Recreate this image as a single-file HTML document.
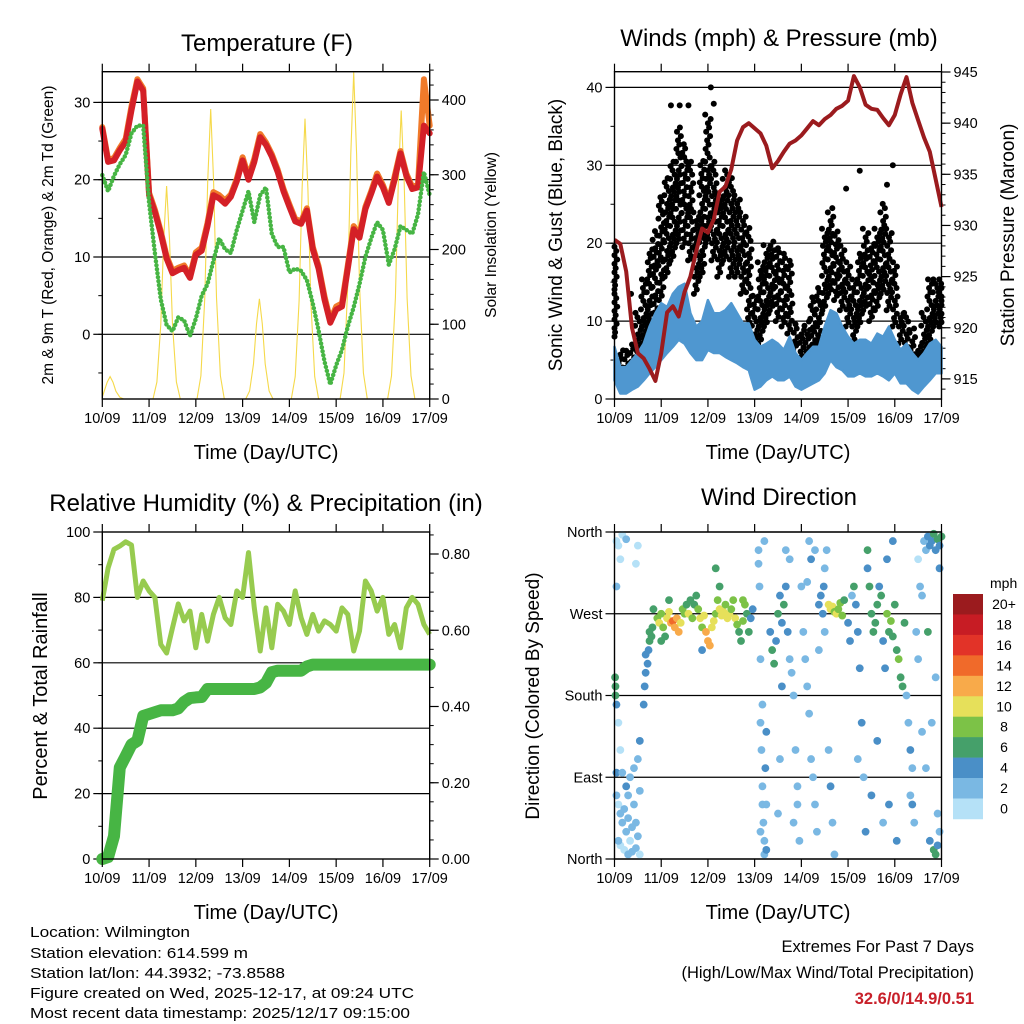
<!DOCTYPE html>
<html><head><meta charset="utf-8">
<style>
html,body{margin:0;padding:0;background:#fff;}
svg{display:block;font-family:"Liberation Sans",Arial,sans-serif;}
</style></head>
<body>
<svg id="chart" width="1024" height="1024" viewBox="0 0 1024 1024" xmlns="http://www.w3.org/2000/svg"></svg>
<script>
// ---------- DATA (3-hourly samples, index*3 = hours since 10/09 00 UTC) ----------
const dayLabels = ["10/09","11/09","12/09","13/09","14/09","15/09","16/09","17/09"];
const tempRed = [26.6,22.3,22.5,23.8,24.9,29,32.7,31.5,18,15.8,13,9.8,7.9,8.3,8.6,7.3,10.3,10.8,14,18,17.6,16.9,17.8,19.8,22.5,20,22.3,25.5,24.5,23,21,18.5,16.5,14.6,14.3,16,11,8.5,4.5,1.5,3.2,3.6,8.5,13.6,12.5,16.2,18.2,20.4,19,17,20,23.4,20.5,18.8,19,27,26];
const tempOrange = [26.8,22.6,22.8,24.1,25.3,29.5,33,31.8,18.3,16.1,13.3,10.1,8.2,8.6,8.9,7.6,10.6,11.2,14.4,18.4,18,17.3,18.1,20.1,22.9,20.4,22.7,25.9,24.8,23.3,21.3,18.8,16.8,14.9,14.6,16.3,11.3,8.8,4.9,1.8,3.6,4,8.9,14,12.8,16.5,18.5,20.8,19.3,17.3,20.4,23.7,20.8,19.1,19.3,33,27];
const dewGreen = [20.6,18.5,20.5,22,23.2,26,27,27,17,10.5,4.5,1.2,0.4,2.2,1.8,-0.2,2,5,6.5,9.5,12.4,11,10.5,13.5,16,18.5,14.5,18,19,13,11.3,11.3,8,8.5,8.2,7,4,0.5,-3.5,-6.5,-4,-2,1,3.5,6.5,10,12.4,14.5,13.5,9,11,14,13.5,13,15.5,21,18];
const solarHour = [4,33,55.6,80.6,104,129,153.4];
const solarPeak = [30,285,388,134,375,437,386];
const pressure = [928.6,928.2,925.5,920,917.5,917,916,914.8,917.5,921.5,922.1,921.1,923.5,925,927.5,929.7,929.3,930.6,933.3,933.8,935.5,938.3,939.6,940,939.5,939,937.8,935.6,936.3,937.2,938,938.3,938.8,939.5,940.2,939.8,940.4,940.8,941.4,941.7,942.2,944.6,943.5,941.8,941.4,941.3,940.5,939.8,940.8,942.8,944.5,942,940.3,938.6,937.2,934.5,931.8];
const windLo = [2.4,0.7,0.7,1.2,1.6,2.4,3.3,4.1,5,5.9,6.7,7.6,7.1,5.9,5,5,6.3,5.9,5.9,5.4,5,4.6,4.1,3.7,1.2,1.6,2.4,2.9,2.4,2.4,2.9,1.6,1.2,1.6,2,2.4,3.3,5,4.1,3.7,2.9,2.9,3.3,2.9,2.9,3.3,2.9,2.4,3.3,2,2,1.2,0.7,1.6,2.4,3.3,3.3];
const windHi = [6.7,4.1,4.1,5,5.9,7.1,9.3,11,12.3,11.8,13.5,14.4,14.8,11,9.3,10,12.7,11,11,11.4,12.3,11,9.7,9.7,7.6,6.7,7.1,7.6,7.1,6.3,8,5.9,5,5.9,6.7,6.7,9.3,11.4,11,9.3,8,7.1,7.6,7.6,7.1,8.4,8,9.3,7.6,6.3,7.1,5.9,5,5.9,7.1,7.6,6.7];
const gustLo = [8,2.4,2.9,3.7,5,7.1,9.3,10,12.7,15.7,17.8,20,19.5,17.8,13.5,15.7,20,17.8,15.7,17.8,15.7,15.7,13.5,9.3,5,7.1,9.3,11.4,10,9.3,8.4,6.3,5,5,5.9,7.1,11.4,13.5,12.7,11.4,9.3,7.1,9.3,11.4,10,11.4,13.5,11.4,9.3,7.1,5,4.1,2.9,5,7.1,9.3,9.3];
const gustHi = [20,6.3,6.7,7.1,11.4,15.7,19.5,22,26.4,28.5,30.6,35,32.8,30.6,24.2,30.6,37,30.6,26.4,29.4,28.5,26.4,24.2,22,13.5,17.8,20,20.4,19.5,18.7,17.8,10,9.3,10,13.5,14.4,22,24.7,22,20,17.8,15.7,18.7,22,20,22,25.6,22,17.8,11.4,11.4,9.3,7.1,11.4,15.7,15.7,15.7];
const gustOutHour = [29,33.5,38,49.5,51,8.5,126,119,143,140];
const gustOutVal = [37.7,37.7,37.7,40,37.9,13.5,29.3,27,30,27.5];
const rh = [79,89,94.7,95.7,97,96,80,85,82,80,65.6,63,70.7,78,72.8,75.8,64.6,74.8,66.6,74.8,80,73.8,71.7,82,80,93.7,76.8,63.6,76.8,64.6,77.9,75.8,71.7,82,73.8,68.7,74.8,69.7,72.8,71.7,69.7,76.8,74.8,63.6,69.7,85,82,75.8,80,68.7,71.7,64.6,76.8,80,77.9,71.7,68.7];
const precip = [0,0.005,0.06,0.24,0.27,0.30,0.31,0.375,0.38,0.385,0.39,0.39,0.39,0.395,0.412,0.422,0.424,0.425,0.446,0.446,0.446,0.446,0.446,0.446,0.446,0.446,0.446,0.45,0.462,0.49,0.494,0.494,0.494,0.494,0.494,0.505,0.51,0.51,0.51,0.51,0.51,0.51,0.51,0.51,0.51,0.51,0.51,0.51,0.51,0.51,0.51,0.51,0.51,0.51,0.51,0.51,0.51];
// wind direction observations: hour, direction (deg), speed (mph)
const dirObs = [
[1,350,1],[2,345,1],[4,357,1],[6,352,2],[12,345,1],[3,330,1],[1,300,2],[11,325,1],[0.5,180,6],[0.5,190,6],[1,170,4],[0.3,200,6],[2,150,1],[3,120,1],[1,95,4],[1,70,2],[2,60,1],[3,50,2],[4,40,2],[5,55,3],[6,30,2],[7,45,2],[8,20,1],[9,35,3],[10,60,3],[11,40,2],[12,25,2],[13,75,3],[3,15,1],[5,10,1],[7,5,2],[9,8,2],[11,12,3],[13,5,1],[6,80,4],[8,90,3],[12,110,3],[13,130,4],[4,95,2],[10,100,2],[2,20,2],[7,70,3],
[15,170,4],[15.5,190,4],[16,205,4],[17,215,4],[17.5,230,5],[18,240,6],[19,245,6],[19.5,255,6],[16,225,5],[18,250,6],
[20,275,6],[22,265,8],[23,260,10],[24,270,9],[25,255,8],[26,245,7],[27,265,10],[28,272,11],[29,260,12],[30,262,14],[31,255,13],[32,265,12],[33,250,13],[34,260,11],[35,275,8],[36,270,9],[37,280,7],[38,270,10],[39,285,7],[40,265,9],[41,280,6],[42,290,7],[43,275,8],[44,265,10],[45,255,8],[46,268,11],[47,250,12],[48,240,13],[49,235,12],[50,255,11],[51,262,10],[52,270,9],[53,285,8],[54,275,10],[55,268,11],[56,272,10],[57,280,9],[58,265,10],[59,270,11],[60,275,9],[61,285,8],[62,265,10],[63,258,8],[64,250,7],[65,240,6],[66,262,9],[67,280,8],[68,270,7],[69,250,6],[70,265,5],[71,275,4],[52,320,6],[54,300,7],[45,230,5],[24,240,7],[28,285,7],[66,285,8],
[74,340,3],[74.5,300,2],[75,220,2],[75,150,2],[75.5,120,3],[76,80,3],[76,60,2],[76.5,40,3],[77,20,2],[77,5,3],[77.5,100,4],[78,140,4],[76,170,3],[77,350,3],[74,325,2],[78,60,3],[75,30,2],[78,10,4],
[80,250,4],[81,230,6],[82,215,6],[83,240,4],[84,270,6],[85,290,4],[86,260,5],[87,280,6],[88,300,4],[89,250,4],[90,220,3],[91,205,2],[92,180,2],[93,120,2],[94,80,3],[94,60,2],[95,20,2],[92,40,2],[90,330,3],[88,340,2],[86,190,4],[85,110,2],[84,50,3],
[96,300,3],[97,250,2],[98,220,2],[99,190,3],[100,160,2],[101,110,3],[102,90,2],[103,60,3],[104,30,2],[105,280,4],[106,290,4],[107,270,4],[107.5,300,4],[108,250,3],[108,320,3],[109,340,2],[110,120,3],[111,80,4],[112,40,2],[113,5,2],[105,230,3],[103,340,2],[100,350,2],[99,305,3],[101,330,4],
[110,280,10],[111,275,10],[112,278,10],[113,272,9],[114,270,10],[115,275,9],[116,282,8],[117,268,8],[118,285,6],
[120,260,4],[121,240,4],[122,290,3],[123,300,6],[124,280,5],[125,250,4],[126,210,4],[127,150,4],[128,90,3],[129,30,4],[130,320,5],[131,300,6],[132,270,6],[133,250,6],[134,260,7],[135,280,6],[136,300,5],[137,290,6],[138,240,5],[139,210,4],[140,270,8],[141,250,7],[142,262,8],[143,245,6],[144,280,7],[145,230,6],[146,220,8],[147,200,7],[148,190,6],[149,260,6],[140,330,4],[143,350,4],[130,340,6],[135,130,4],[141,60,4],[145,20,4],[125,110,3],[132,70,4],[138,40,3],
[150,180,3],[151,150,3],[152,120,4],[153,100,3],[152,70,3],[153,60,4],[154,40,3],[155,250,3],[156,220,2],[157,300,2],[156,330,1],[158,290,2],[159,350,2],[160,340,3],[161,355,4],[162,345,5],[163,350,4],[164,358,6],[165,340,4],[166,352,6],[167,345,4],[162,20,4],[164,10,6],[165,5,6],[166,15,4],[167,30,3],[160,100,2],[158,140,2],[163,150,2],[166,50,3],[161,250,6],[165,200,3],[168,355,6],[167,320,5]
];
const speedLabels = ["0","2","4","6","8","10","12","14","16","18","20+"];
const speedColors = ["#b5e1f7","#7ab8e3","#4a8fc7","#45a06a","#7cc247","#e6e05a","#f8aa4a","#f06a2a","#e23328","#c71c24","#9b1b1e"];

// ---------- helpers ----------
const NS = "http://www.w3.org/2000/svg";
const svg = document.getElementById("chart");
function mk(tag, attrs, parent){
  const e = document.createElementNS(NS, tag);
  for (const k in attrs) e.setAttribute(k, attrs[k]);
  (parent||svg).appendChild(e);
  return e;
}
function txt(str, attrs, parent){ const t = mk("text", attrs, parent); t.textContent = str; return t; }
function pathD(pts){ return pts.map((p,i)=>(i?"L":"M")+p[0].toFixed(1)+","+p[1].toFixed(1)).join(""); }

const P = {
  t:{x0:102.3,x1:429.7,y0:71.7,y1:399},
  w:{x0:614.5,x1:941.5,y0:71.7,y1:399},
  r:{x0:102.3,x1:429.7,y0:532,y1:859},
  d:{x0:614.5,x1:941.5,y0:532,y1:859}
};
const HOURS = 168;
function xsFor(p){ return h => p.x0 + h*(p.x1-p.x0)/HOURS; }
const xT = xsFor(P.t), xW = xsFor(P.w), xR = xsFor(P.r), xD = xsFor(P.d);
const yTemp = v => 334.3 - v*7.73;
const ySolar = v => 399 - v*0.7475;
const yWind = v => 399 - v*7.79;
const yPres = v => 72 + (945-v)*10.23;
const yRH = v => 859 - v*3.27;
const yPrec = v => 859 - v*381.25;
const yDir = v => 859 - v*327/360;

function frame(p, name){
  const g = mk("g",{});
  
  
  mk("rect",{x:p.x0,y:p.y0,width:p.x1-p.x0,height:p.y1-p.y0,fill:"none",stroke:"#000","stroke-width":1.4},g);
  return g;
}
function xAxis(p, xs, name){
  const g = mk("g",{});
  
  
  dayLabels.forEach((lab,i)=>{
    const x = xs(i*24);
    mk("line",{x1:x,x2:x,y1:p.y1,y2:p.y1+8,stroke:"#000","stroke-width":1.2},g);
    mk("line",{x1:x,x2:x,y1:p.y0,y2:p.y0-8,stroke:"#000","stroke-width":1.2},g);
    const t = txt(lab,{x:x,y:p.y1+24,"font-size":14.5,"text-anchor":"middle"},g);
    
    
  });
  const tt = txt("Time (Day/UTC)",{x:(p.x0+p.x1)/2,y:p.y1+60,"font-size":20,"text-anchor":"middle"},g);
  
  
}
function yTicks(p, side, vals, labels, ys, minorVals, name, grid){
  const g = mk("g",{});
  
  
  const xe = side==="L" ? p.x0 : p.x1, dir = side==="L" ? -1 : 1;
  (minorVals||[]).forEach(v=>{ const y=ys(v); mk("line",{x1:xe,x2:xe+dir*4,y1:y,y2:y,stroke:"#000","stroke-width":1},g); });
  vals.forEach((v,i)=>{
    const y = ys(v);
    mk("line",{x1:xe,x2:xe+dir*9,y1:y,y2:y,stroke:"#000","stroke-width":1.2},g);
    if (grid) mk("line",{x1:p.x0,x2:p.x1,y1:y,y2:y,stroke:"#000","stroke-width":1.2},g);
    const t = txt(labels[i],{x:xe+dir*12,y:y+5,"font-size":14.5,"text-anchor":side==="L"?"end":"start"},g);
    
    
  });
}
function rotTitle(str, x, y, size, name){
  const t = txt(str,{x:x,y:y,"font-size":size,"text-anchor":"middle",transform:`rotate(-90 ${x} ${y})`});
  
  
}
function title(str, x, y, name){
  const t = txt(str,{x:x,y:y,"font-size":24,"text-anchor":"middle"});
  
  
}
function range(a,b,s){ const r=[]; for(let v=a; v<=b+1e-9; v+=s) r.push(+v.toFixed(4)); return r; }

// ---------- PANEL 1: Temperature ----------
title("Temperature (F)", 267, 51, "temperature-title");
yTicks(P.t,"L",[0,10,20,30],["0","10","20","30"],yTemp,range(-5,30,5),"temp-left-axis",true);
yTicks(P.t,"R",[0,100,200,300,400],["0","100","200","300","400"],ySolar,range(0,440,20),"solar-right-axis",false);
{
  const g = mk("g",{});
  
  
  const offs=[-7,-5,-3,-1.5,0,1.5,3,5,7], frac=[0,0.08,0.35,0.75,1,0.75,0.35,0.08,0];
  solarHour.forEach((h,i)=>{
    const pts = offs.map((o,k)=>[xT(Math.max(0,h+o)), ySolar(solarPeak[i]*frac[k])]);
    const pth = mk("path",{d:pathD(pts),fill:"none",stroke:"#f5d94a","stroke-width":1.1},g);
    
    
  });
}
const orangeLine = mk("path",{d:pathD(tempOrange.map((v,i)=>[xT(i*3),yTemp(v)])),fill:"none",stroke:"#f07a2a","stroke-width":6,"stroke-linejoin":"round","stroke-linecap":"round"});


const redLine = mk("path",{d:pathD(tempRed.map((v,i)=>[xT(i*3),yTemp(v)])),fill:"none",stroke:"#d42027","stroke-width":6,"stroke-linejoin":"round","stroke-linecap":"round"});


const dewLine = mk("path",{d:pathD(dewGreen.map((v,i)=>[xT(i*3),yTemp(v)])),fill:"none",stroke:"#47b544","stroke-width":4.5,"stroke-dasharray":"0 4","stroke-linecap":"round"});


frame(P.t,"temperature");
xAxis(P.t,xT,"temperature");
rotTitle("2m & 9m T (Red, Orange) & 2m Td (Green)", 53, 235, 15.5, "temp-left-axis-title");
rotTitle("Solar Insolation (Yellow)", 496, 235, 15.5, "solar-right-axis-title");

// ---------- PANEL 2: Winds & Pressure ----------
title("Winds (mph) & Pressure (mb)", 779, 46, "winds-title");
yTicks(P.w,"L",[0,10,20,30,40],["0","10","20","30","40"],yWind,range(0,40,5),"wind-left-axis",true);
yTicks(P.w,"R",[915,920,925,930,935,940,945],["915","920","925","930","935","940","945"],yPres,range(914,945,1),"pressure-right-axis",false);
{
  const g = mk("g",{});
  
  
  const sh=[-1.2,0.3,-0.4,1.1,-0.9,0.6,0,1.4,-1.4,0.9,-0.2];
  gustLo.forEach((lo,i)=>{
    const hi = gustHi[i]; let k=0;
    for(let v=lo; v<=hi; v+=0.55){
      const c = mk("circle",{cx:xW(Math.min(HOURS,Math.max(0,i*3+sh[k%sh.length]))),cy:yWind(v),r:3.0,fill:"#000"},g);
      
      
      k++;
    }
  });
  gustOutHour.forEach((h,i)=>{
    const c = mk("circle",{cx:xW(h),cy:yWind(gustOutVal[i]),r:3.0,fill:"#000"},g);
    
    
  });
}
{
  const pts = windHi.map((v,i)=>[xW(i*3),yWind(v)]).concat(windLo.map((v,i)=>[xW(i*3),yWind(v)]).reverse());
  const band = mk("path",{d:pathD(pts)+"Z",fill:"#4f97d0",stroke:"#4f97d0","stroke-width":2.5,"stroke-linejoin":"round"});
  
  
}
const presLine = mk("path",{d:pathD(pressure.map((v,i)=>[xW(i*3),yPres(v)])),fill:"none",stroke:"#9b1b1e","stroke-width":4,"stroke-linejoin":"round"});


frame(P.w,"winds");
xAxis(P.w,xW,"winds");
rotTitle("Sonic Wind & Gust (Blue, Black)", 562, 235, 19, "wind-left-axis-title");
rotTitle("Station Pressure (Maroon)", 1014, 235, 19, "pressure-right-axis-title");

// ---------- PANEL 3: RH & precip ----------
title("Relative Humidity (%) & Precipitation (in)", 266, 511, "humidity-title");
yTicks(P.r,"L",[0,20,40,60,80,100],["0","20","40","60","80","100"],yRH,range(0,100,10),"rh-left-axis",false);
[20,40,60,80].forEach(v=>{ const l=mk("line",{x1:P.r.x0,x2:P.r.x1,y1:yRH(v),y2:yRH(v),stroke:"#000","stroke-width":1.2});   });
yTicks(P.r,"R",[0,0.2,0.4,0.6,0.8],["0.00","0.20","0.40","0.60","0.80"],yPrec,range(0,0.85,0.05),"precip-right-axis",false);
const rhLine = mk("path",{d:pathD(rh.map((v,i)=>[xR(i*3),yRH(v)])),fill:"none",stroke:"#97cb4f","stroke-width":5,"stroke-linejoin":"round"});


const prLine = mk("path",{d:pathD(precip.map((v,i)=>[xR(i*3),yPrec(v)])),fill:"none",stroke:"#47b544","stroke-width":12,"stroke-linejoin":"round","stroke-linecap":"round"});


frame(P.r,"humidity");
xAxis(P.r,xR,"humidity");
rotTitle("Percent & Total Rainfall", 47, 696, 20, "rh-left-axis-title");

// ---------- PANEL 4: Wind direction ----------
title("Wind Direction", 779, 505, "wind-direction-title");
yTicks(P.d,"L",[0,90,180,270,360],["North","East","South","West","North"],yDir,[],"direction-left-axis",true);
{
  const g = mk("g",{});
  
  
  dirObs.forEach(o=>{
    const ci = Math.min(10, Math.floor(o[2]/2));
    const c = mk("circle",{cx:xD(o[0]),cy:yDir(o[1]),r:3.9,fill:speedColors[ci]},g);
    
    
  });
}
frame(P.d,"wind-direction");
xAxis(P.d,xD,"wind-direction");
rotTitle("Direction (Colored By Speed)", 539, 696, 19, "direction-left-axis-title");
{
  const g = mk("g",{});
  
  
  const top=594, bh=20.45;
  const u = txt("mph",{x:990,y:588,"font-size":14},g);
  
  
  for(let k=0;k<speedLabels.length;k++){
    const idx = speedLabels.length-1-k;
    const r = mk("rect",{x:953,y:top+k*bh,width:30,height:bh+0.3,fill:speedColors[idx]},g);
    
    
    const t = txt(speedLabels[idx],{x:1004,y:top+k*bh+15,"font-size":14,"text-anchor":"middle"},g);
    
    
  }
}

// ---------- footer text ----------
const info = [["Location: Wilmington",937,160],["Station elevation: 614.599 m",958,218],["Station lat/lon: 44.3932; -73.8588",978,255],["Figure created on Wed, 2025-12-17, at 09:24 UTC",998,384],["Most recent data timestamp: 2025/12/17 09:15:00",1018,380]];
info.forEach(r=>{
  const t = txt(r[0],{x:30,y:r[1],"font-size":15,textLength:r[2],lengthAdjust:"spacingAndGlyphs"});
  
  
});
const e1 = txt("Extremes For Past 7 Days",{x:974,y:952,"font-size":16.5,"text-anchor":"end"});


const e2 = txt("(High/Low/Max Wind/Total Precipitation)",{x:974,y:978,"font-size":16.5,"text-anchor":"end"});


const e3 = txt("32.6/0/14.9/0.51",{x:974,y:1004,"font-size":16.5,"font-weight":"bold",fill:"#c8202a","text-anchor":"end"});


</script>
</body></html>
